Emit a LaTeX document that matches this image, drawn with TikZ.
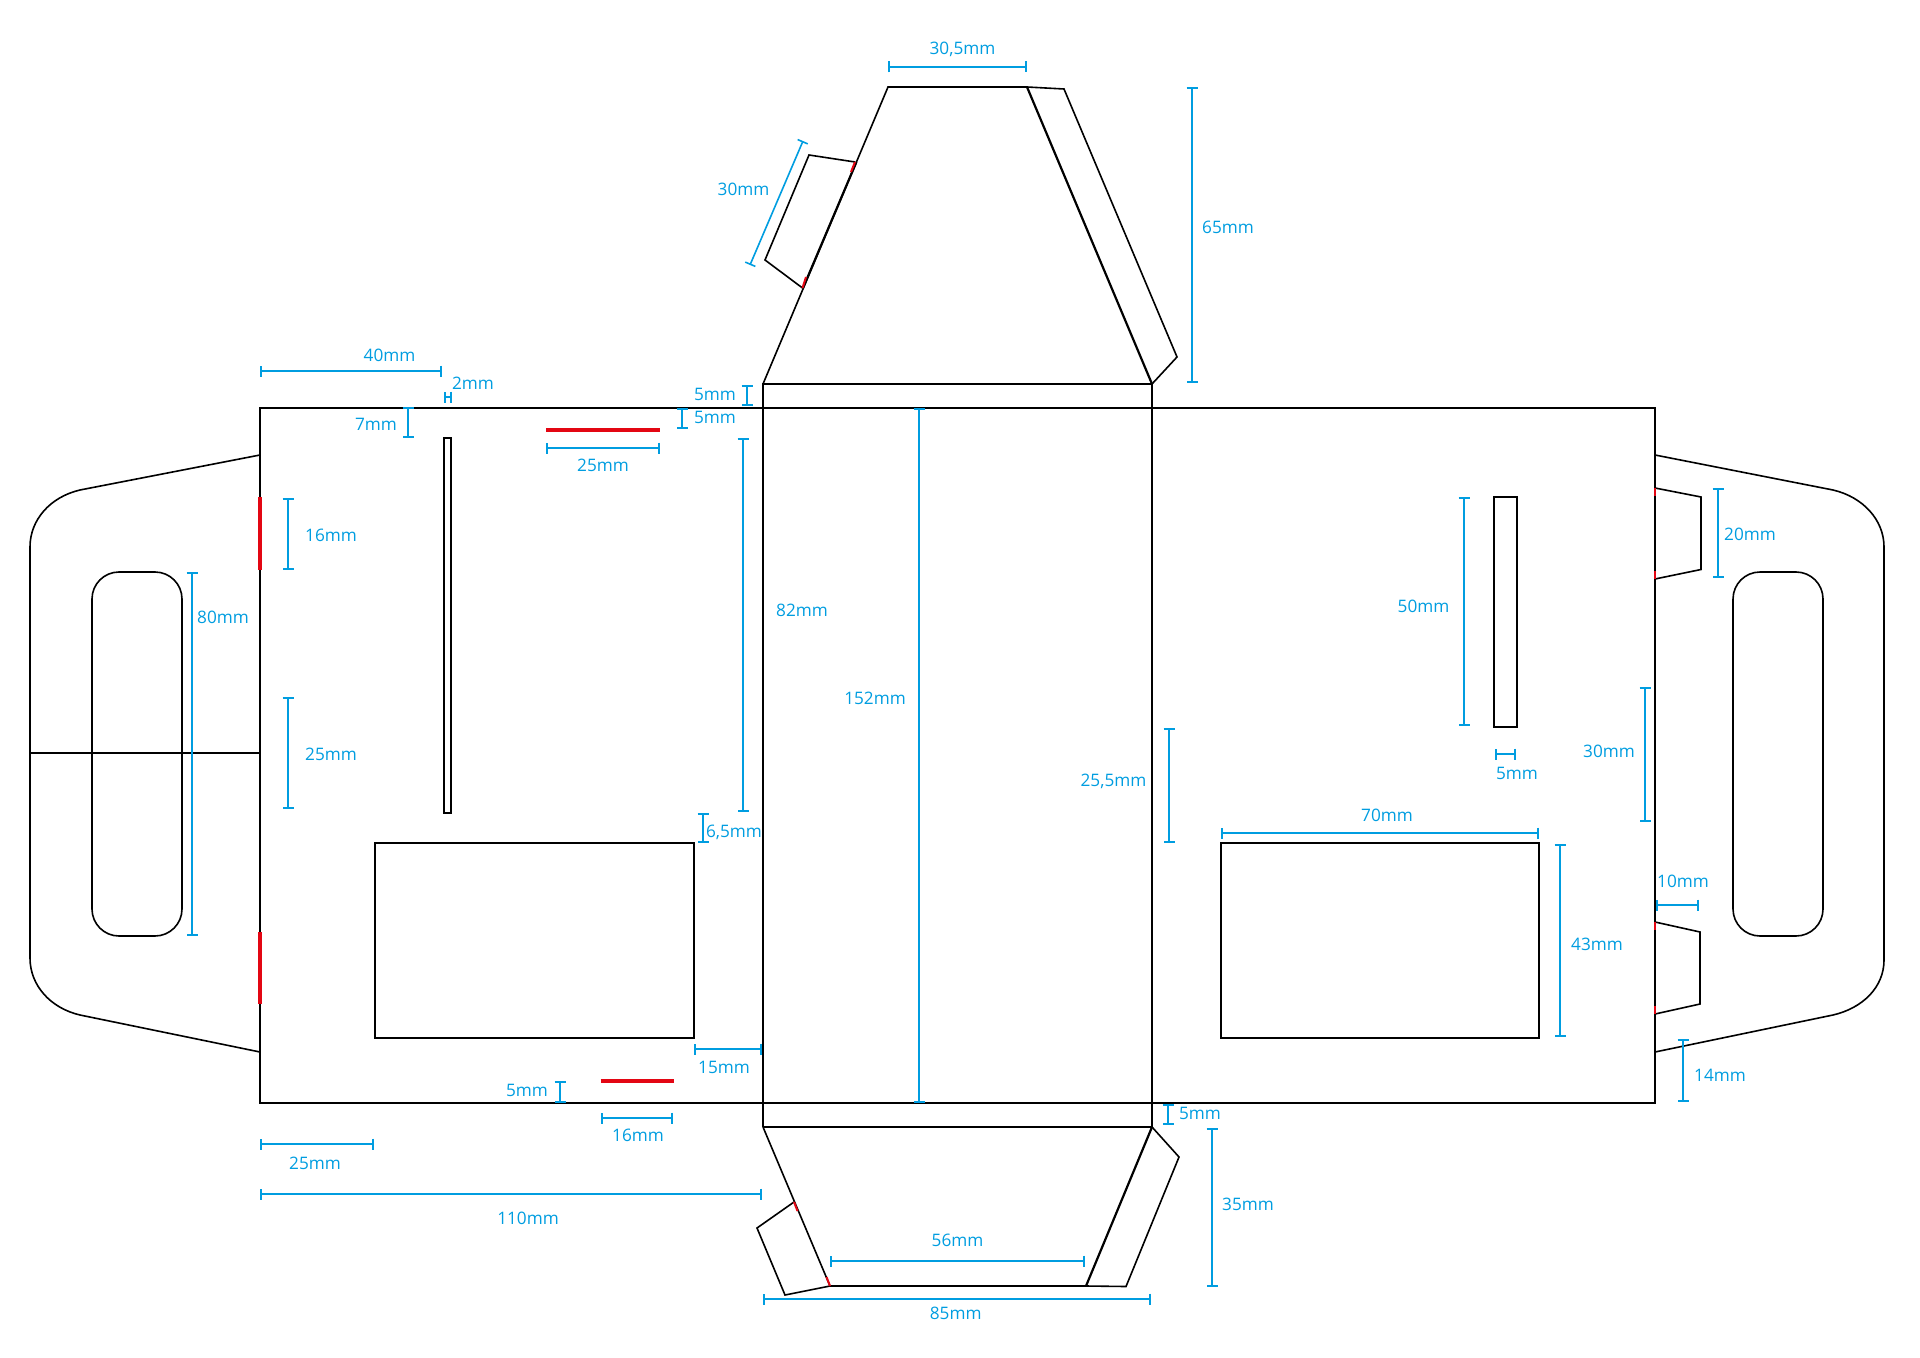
\documentclass[tikz,border=0pt]{standalone}
\usepackage{fontspec}
\setmainfont{Open Sans}
\usetikzlibrary{arrows.meta}
\definecolor{dimblue}{RGB}{0,157,224}
\definecolor{glue}{RGB}{227,6,19}
\tikzset{
	cutline/.style={draw=black, line width=0.8pt, line join=miter},
	boldline/.style={draw=black, line width=1.1pt},
	gluemark/.style={draw=glue, line width=1pt},
	gluebar/.style={draw=glue, line width=1.7pt},
	dimline/.style={draw=dimblue, line width=0.8pt, {Bar[width=5.5pt,line width=0.8pt]}-{Bar[width=5.5pt,line width=0.8pt]}},
	dimtext/.style={text=dimblue, font=\fontsize{8.6}{8.6}\selectfont, inner sep=0pt, text height=6.5pt, text depth=0pt}
}
\begin{document}
\begin{tikzpicture}[x=0.5pt, y=-0.5pt]
	\useasboundingbox (0,0) rectangle (1920,1358);

	% body
	\draw [cutline] (260,408) rectangle (1655,1103);
	\draw [boldline] (763,408) -- (763,1127);
	\draw [boldline] (1152,408) -- (1152,1127);
	\draw [boldline] (763,408) -- (1152,408);

	% top flap
	\draw [cutline] (763,384) rectangle (1152,408);
	\draw [cutline] (763,384) -- (888,87) -- (1027,87);
	\draw [boldline] (1027,87) -- (1152,384);
	\draw [boldline] (856.4,162) -- (803,288);
	\draw [cutline] (1027,87) -- (1064,89) -- (1177,357) -- (1152,384);
	\draw [cutline] (855,162) -- (809,155) -- (765,260) -- (802.5,288);
	\draw [gluemark] (855,162) -- (851,172);
	\draw [gluemark] (802.5,288) -- (806,277);

	% bottom flap
	\draw [cutline] (763,1127) -- (1152,1127);
	\draw [cutline] (763,1127) -- (830,1286) -- (1086,1286);
	\draw [boldline] (1086,1286) -- (1152,1127);
	\draw [cutline] (1086,1286) -- (1126,1286.5) -- (1179,1157) -- (1152,1127);
	\draw [cutline] (794,1202) -- (757,1228) -- (785,1295) -- (830,1286);
	\draw [gluemark] (794,1202) -- (797.5,1211);
	\draw [gluemark] (830,1286) -- (826.5,1277);

	% left handle
	\draw [cutline] (260,455) -- (80,490) .. controls (50,497) and (30,520) .. (30,547) -- (30,958) .. controls (30,985) and (50,1008) .. (80,1015) -- (260,1052);
	\draw [cutline] (30,753) -- (260,753);
	\draw [cutline, rounded corners=13.5pt] (92,572) rectangle (182,936);
	\draw [gluebar] (260,497) -- (260,570);
	\draw [gluebar] (260,932) -- (260,1004);

	% right handle
	\draw [cutline] (1655,455) -- (1833,490) .. controls (1863,497) and (1884,520) .. (1884,547) -- (1884,960) .. controls (1884,987) and (1863,1008) .. (1833,1015) -- (1655,1052);
	\draw [cutline, rounded corners=13.5pt] (1733,572) rectangle (1823,936);
	\draw [cutline] (1655,488) -- (1701,497) -- (1701,569.5) -- (1655,579);
	\draw [cutline] (1655,922) -- (1700,932) -- (1700,1004) -- (1655,1014);
	\draw [gluemark] (1655,488) -- (1655,496);
	\draw [gluemark] (1655,571) -- (1655,579);
	\draw [gluemark] (1655,922) -- (1655,930);
	\draw [gluemark] (1655,1006) -- (1655,1014);

	% slits and windows
	\draw [cutline] (444,438) rectangle (451,813);
	\draw [cutline] (1494,497) rectangle (1517,727);
	\draw [cutline] (375,843) rectangle (694,1038);
	\draw [cutline] (1221,843) rectangle (1539,1038);
	\draw [gluebar] (546,430) -- (660,430);
	\draw [gluebar] (600.5,1081) -- (674,1081);

	% dimensions, top
	\draw [dimline] (888,67) -- (1027,67);
	\node [dimtext] (lab305) at (962.5,48) {30,5mm};
	\draw [dimline] (803,141) -- (750,265);
	\node [dimtext] (labslant) at (743.5,189) {30mm};
	\draw [dimline] (1192,87) -- (1192,383);
	\node [dimtext] (lab65) at (1228,227) {65mm};
	\draw [dimline] (747,385) -- (747,406);
	\node [dimtext] (labstrip) at (715,394) {5mm};
	\draw [dimline] (682,408) -- (682,429);
	\node [dimtext] (labbar) at (715,417) {5mm};

	% dimensions, left panel
	\draw [dimline] (260,371) -- (442,371);
	\node [dimtext] (lab40) at (389.5,355) {40mm};
	\draw [dimline] (444,397) -- (452,397);
	\node [dimtext] (lab2) at (473,383) {2mm};
	\draw [dimline] (408,407) -- (408,438);
	\node [dimtext] (lab7) at (376,424) {7mm};
	\draw [dimline] (546,448) -- (660,448);
	\node [dimtext] (labbartop) at (603,465) {25mm};
	\draw [dimline] (288,498) -- (288,570);
	\node [dimtext] (lab16) at (331,535) {16mm};
	\draw [dimline] (288,697) -- (288,809);
	\node [dimtext] (lab25) at (331,754) {25mm};
	\draw [dimline] (192,572) -- (192,936);
	\node [dimtext] (lab80) at (223,617) {80mm};
	\draw [dimline] (743,438) -- (743,812);
	\node [dimtext] (lab82) at (802,610) {82mm};
	\draw [dimline] (703,813) -- (703,843);
	\node [dimtext] (lab65b) at (734,830.5) {6,5mm};
	\draw [dimline] (694,1049) -- (762,1049);
	\node [dimtext] (lab15) at (724,1067) {15mm};
	\draw [dimline] (560,1081) -- (560,1103);
	\node [dimtext] (labbarlow) at (527,1090) {5mm};

	% dimensions, middle and bottom
	\draw [dimline] (919,408) -- (919,1103);
	\node [dimtext] (lab152) at (875,698) {152mm};
	\draw [dimline] (601,1118) -- (673,1118);
	\node [dimtext] (lab16b) at (638,1135) {16mm};
	\draw [dimline] (260,1144) -- (374,1144);
	\node [dimtext] (lab25b) at (315,1163) {25mm};
	\draw [dimline] (260,1194) -- (762,1194);
	\node [dimtext] (lab110) at (528,1218) {110mm};
	\draw [dimline] (1168,1104) -- (1168,1125);
	\node [dimtext] (labstripb) at (1200,1113) {5mm};
	\draw [dimline] (1212,1128) -- (1212,1287);
	\node [dimtext] (lab35) at (1248,1204) {35mm};
	\draw [dimline] (830,1261) -- (1085,1261);
	\node [dimtext] (lab56) at (957.5,1240) {56mm};
	\draw [dimline] (763,1299) -- (1151,1299);
	\node [dimtext] (lab85) at (955.7,1313) {85mm};

	% dimensions, right panel
	\draw [dimline] (1169,728) -- (1169,843);
	\node [dimtext] (lab255) at (1113.5,780) {25,5mm};
	\draw [dimline] (1464,497) -- (1464,726);
	\node [dimtext] (lab50) at (1423.5,606) {50mm};
	\draw [dimline] (1495,754) -- (1516,754);
	\node [dimtext] (lab5r) at (1517,773) {5mm};
	\draw [dimline] (1221,833) -- (1539,833);
	\node [dimtext] (lab70) at (1387,814.5) {70mm};
	\draw [dimline] (1560,844) -- (1560,1037);
	\node [dimtext] (lab43) at (1597,944) {43mm};
	\draw [dimline] (1645,687) -- (1645,822);
	\node [dimtext] (lab30) at (1609,751) {30mm};
	\draw [dimline] (1718,488) -- (1718,578);
	\node [dimtext] (lab20) at (1750,534) {20mm};
	\draw [dimline] (1656,905) -- (1699,905);
	\node [dimtext] (lab10) at (1683,881) {10mm};
	\draw [dimline] (1683,1039) -- (1683,1102);
	\node [dimtext] (lab14) at (1720,1074.5) {14mm};
\end{tikzpicture}
\end{document}
